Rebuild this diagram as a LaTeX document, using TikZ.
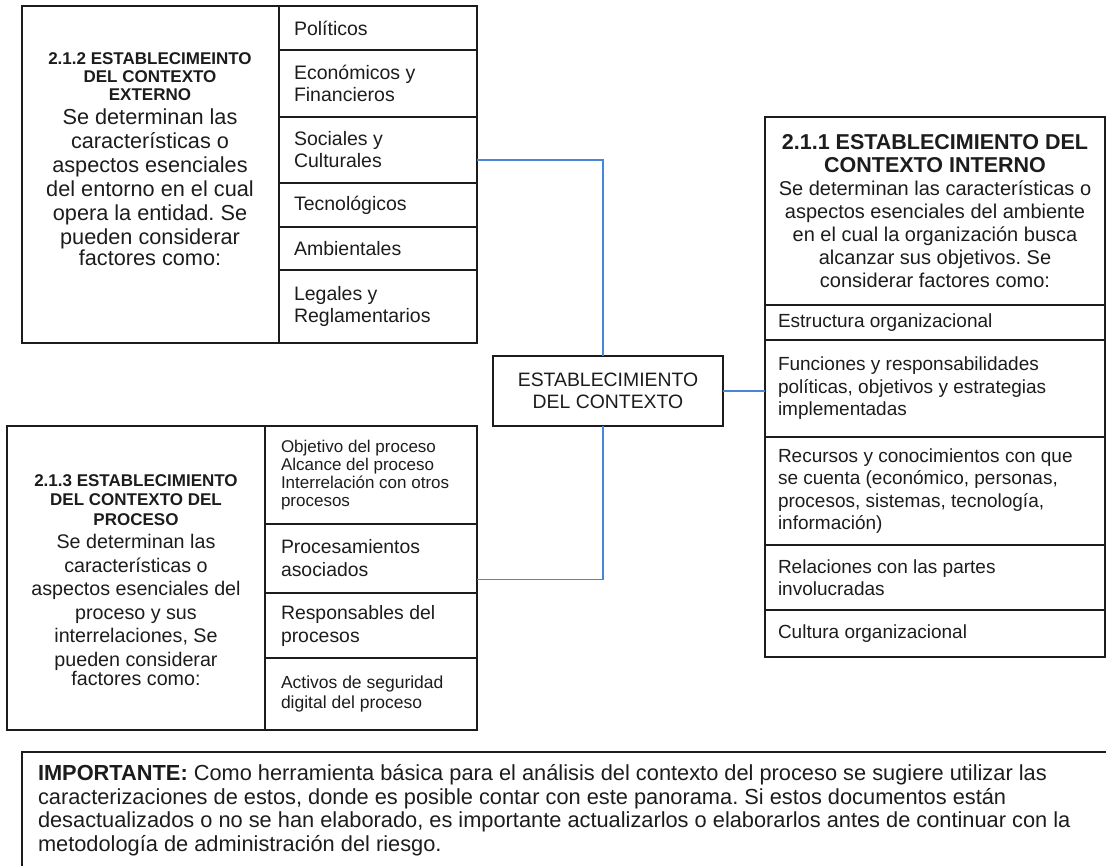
\documentclass[tikz,border=0pt]{standalone}
\usepackage{fontspec}
\setmainfont{Liberation Sans}
\usepackage{tikz}
\usetikzlibrary{positioning}
\definecolor{ink}{RGB}{28,28,28}
\definecolor{linkblue}{RGB}{74,134,216}
\newcommand\plainspaces{\spaceskip=\fontdimen2\font\xspaceskip=\fontdimen2\font\relax}
\newcommand\boxsize[2]{\fontsize{#1}{#2}\selectfont\plainspaces}
\tikzset{
  cell/.style     = {shape=rectangle, draw=ink, line width=1.3pt, text=ink,
                     anchor=north west, outer sep=0pt, inner ysep=2pt,
                     execute at begin node=\plainspaces},
  extitem/.style  = {cell, minimum width=198pt, text width=168pt, inner xsep=15pt,
                     align=left, font=\fontsize{19.5}{22}\selectfont},
  intitem/.style  = {cell, minimum width=340pt, text width=314pt, inner xsep=13pt,
                     align=left, font=\fontsize{19}{22.5}\selectfont},
  proitem/.style  = {cell, minimum width=212pt, text width=180pt, inner xsep=16pt,
                     align=left, font=\fontsize{19.4}{23}\selectfont},
  desc/.style     = {align=center, text width=254pt, text=ink, inner sep=0pt},
  ctxbox/.style   = {cell, anchor=center, minimum width=230pt, minimum height=70pt,
                     align=center, font=\fontsize{19.4}{22}\selectfont},
  notebox/.style  = {cell, minimum width=1100pt, minimum height=116pt, text width=1068pt,
                     inner xsep=16pt, align=left, font=\fontsize{21.8}{23.5}\selectfont},
  link/.style     = {draw=linkblue, line width=1.8pt}
}

\begin{document}
\begin{tikzpicture}[x=1pt, y=-1pt]
 \useasboundingbox (0,0) rectangle (1106,865);

 % contexto externo
 \node [extitem, minimum height=44pt] (pol) at (279,6) {Políticos};
 \node [extitem, minimum height=67pt, below=0pt of pol] (eco) {Económicos y\\Financieros};
 \node [extitem, minimum height=66pt, below=0pt of eco] (soc) {Sociales y\\Culturales};
 \node [extitem, minimum height=44pt, below=0pt of soc] (tec) {Tecnológicos};
 \node [extitem, minimum height=43pt, below=0pt of tec] (amb) {Ambientales};
 \node [extitem, minimum height=73pt, below=0pt of amb] (leg) {Legales y\\Reglamentarios};
 \draw [draw=ink, line width=1.3pt] (22,6) rectangle (leg.south west);
 \node [desc, anchor=north] (exttxt) at (150,52)
   {{\bfseries\boxsize{17}{18}2.1.2 ESTABLECIMEINTO\\DEL CONTEXTO\\EXTERNO\par}
    \boxsize{21.7}{24}Se determinan las\\características o\\aspectos esenciales\\
    del entorno en el cual\\opera la entidad. Se\\pueden considerar\\factores como:};

 % contexto del proceso
 \node [proitem, minimum height=98pt, font=\fontsize{17}{18}\selectfont] (obj) at (265,426)
   {Objetivo del proceso\\Alcance del proceso\\Interrelación con otros\\procesos};
 \node [proitem, minimum height=69pt, below=0pt of obj] (proc) {Procesamientos\\asociados};
 \node [proitem, minimum height=65pt, below=0pt of proc] (resp) {Responsables del\\procesos};
 \node [proitem, minimum height=72pt, below=0pt of resp, font=\fontsize{17.5}{20}\selectfont] (act)
   {Activos de seguridad\\digital del proceso};
 \draw [draw=ink, line width=1.3pt] (7,426) rectangle (act.south west);
 \node [desc] (protxt) at (136,580)
   {{\bfseries\boxsize{17}{19.5}2.1.3 ESTABLECIMIENTO\\DEL CONTEXTO DEL\\PROCESO\par}
    \boxsize{19.7}{23.5}Se determinan las\\características o\\aspectos esenciales del\\
    proceso y sus\\interrelaciones, Se\\pueden considerar\\factores como:};

 % contexto interno
 \node [intitem, minimum height=188pt, align=center] (inthead) at (765,117)
   {{\bfseries\boxsize{21.5}{23}2.1.1 ESTABLECIMIENTO DEL\\CONTEXTO INTERNO\par}
    \boxsize{20}{23}Se determinan las características o\\aspectos esenciales del ambiente\\
    en el cual la organización busca\\alcanzar sus objetivos. Se\\considerar factores como:};
 \node [intitem, minimum height=35pt, below=0pt of inthead] (est) {Estructura organizacional};
 \node [intitem, minimum height=97pt, below=0pt of est] (fun)
   {Funciones y responsabilidades\\políticas, objetivos y estrategias\\implementadas};
 \node [intitem, minimum height=108pt, below=0pt of fun] (rec)
   {Recursos y conocimientos con que\\se cuenta (económico, personas,\\procesos, sistemas, tecnología,\\información)};
 \node [intitem, minimum height=65pt, below=0pt of rec] (rel) {Relaciones con las partes\\involucradas};
 \node [intitem, minimum height=47pt, below=0pt of rel] (cul) {Cultura organizacional};

 % centro
 \node [ctxbox] (ctx) at (608,391) {ESTABLECIMIENTO\\DEL CONTEXTO};

 \draw [link] ([yshift=-10pt]soc.east) -| ([xshift=-5pt]ctx.north);
 \draw [link] ([xshift=-5pt]ctx.south) |- ([yshift=-21pt]proc.east);
 \draw [link] (ctx.east) -- (ctx.east -| fun.west);

 % nota
 \node [notebox] (imp) at (22,752)
   {\textbf{IMPORTANTE:} Como herramienta básica para el análisis del contexto del proceso se sugiere utilizar las\\
    caracterizaciones de estos, donde es posible contar con este panorama. Si estos documentos están\\
    desactualizados o no se han elaborado, es importante actualizarlos o elaborarlos antes de continuar con la\\
    metodología de administración del riesgo.};
\end{tikzpicture}
\end{document}
